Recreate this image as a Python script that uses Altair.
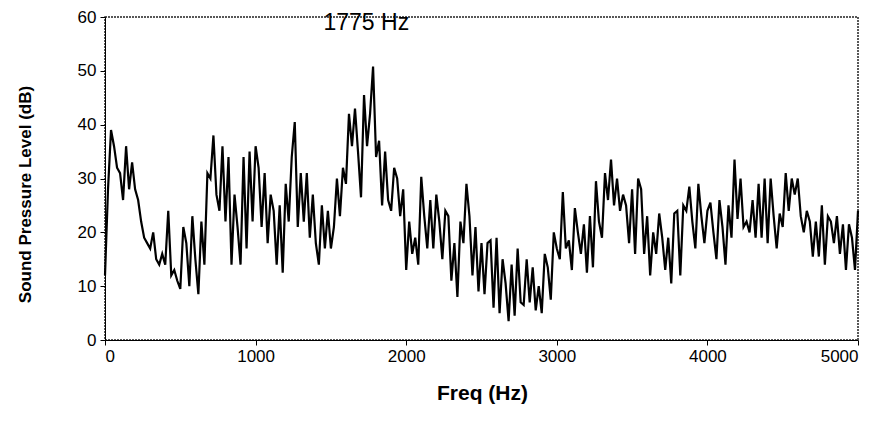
import altair as alt
import pandas as pd

# Frequency bins (Hz), one every 20 Hz from 0 to 5000
freq = list(range(0, 5001, 20))

# Sound pressure level (dB), one per bin
spl = [
    12, 28, 39, 36, 32, 31, 26, 36, 28, 33,
    28, 26, 22, 19, 18, 17, 20, 15, 14, 16,
    14, 24, 12, 13, 11, 9.5, 21, 18, 10, 23,
    15, 8.5, 22, 14, 31, 30, 38, 27, 24, 36,
    22, 34, 14, 27, 21, 14, 34, 17, 35, 22,
    36, 32, 21, 31, 18, 27, 24, 14, 25, 12.5,
    29, 22, 34, 40.5, 21, 31, 22, 31, 19, 27,
    18, 14, 25, 17, 24, 17, 21, 30, 23, 32,
    29, 42, 36, 43, 35, 26.5, 45.5, 36, 42, 50.8,
    34, 37, 25, 35, 26, 24, 32, 30, 23, 28,
    13, 22, 16, 19, 14, 30.3, 23, 17, 26, 17,
    27, 22, 15, 24, 23, 11, 18, 8, 22, 18,
    29, 23, 12, 21, 9, 18, 8.5, 18, 18.5, 6,
    19, 5, 15, 10.5, 3.5, 14, 4.5, 17, 7, 6.5,
    15, 7, 13.5, 5.5, 10, 5, 16, 13.5, 7.5, 20,
    17, 15, 27.5, 17, 18.5, 13, 24.5, 20, 16, 21.5,
    12.5, 23, 13.5, 29.5, 22, 19, 31, 26, 33.5, 25,
    30, 24, 27, 25, 18, 28, 16, 30, 28, 16,
    23, 12, 20, 16, 23.5, 19, 13, 19, 10.5, 23.5,
    24, 12, 25, 24, 28.5, 22, 17, 29, 23, 18,
    24, 25.5, 20, 15, 26, 21, 14, 25, 19, 33.5,
    22.5, 30, 21, 22, 20, 26, 19, 29, 19, 30,
    18, 30, 23, 17, 23.5, 21, 31, 24, 30, 27,
    30, 23, 20, 24, 22, 15.5, 22, 15.5, 25, 14,
    23, 22, 18, 23, 16, 21.5, 13, 21.5, 19, 13,
    24,
]

x_ticks = [0, 1000, 2000, 3000, 4000, 5000]
y_ticks = [0, 10, 20, 30, 40, 50, 60]

annot_x = [1735]
annot_y = [57.5]
annot_text = ["1775 Hz"]

FONT = "Liberation Sans"

df = pd.DataFrame({"freq": freq, "spl": spl})
ann = pd.DataFrame({"x": annot_x, "y": annot_y, "t": annot_text})

x_enc = alt.X(
    "freq:Q",
    scale=alt.Scale(domain=[0, 5000], nice=False, zero=False),
    axis=alt.Axis(
        values=x_ticks, format="d", title="Freq (Hz)",
        grid=False, tickSize=5, tickColor="black", domainColor="black",
        labelFont=FONT, labelFontSize=17, labelColor="black", labelPadding=3,
        titleFont=FONT, titleFontSize=21, titleFontWeight="bold", titleColor="black",
        titleX=377, titleY=53, titleBaseline="middle",
    ),
)
y_enc = alt.Y(
    "spl:Q",
    scale=alt.Scale(domain=[0, 60], nice=False),
    axis=alt.Axis(
        values=y_ticks, format="d", title="Sound Pressure Level (dB)",
        grid=False, tickSize=5, tickColor="black", domainColor="black",
        labelFont=FONT, labelFontSize=17, labelColor="black", labelPadding=4,
        titleFont=FONT, titleFontSize=17, titleFontWeight="bold", titleColor="black",
        titleX=-80, titleY=177, titleAngle=-90, titleBaseline="middle", titleAlign="center",
    ),
)

line = alt.Chart(df).mark_line(color="black", strokeWidth=2.2, interpolate="linear").encode(
    x=x_enc, y=y_enc
)

text = alt.Chart(ann).mark_text(
    font=FONT, fontSize=23, color="black", align="center", baseline="alphabetic"
).encode(x=alt.X("x:Q"), y=alt.Y("y:Q"), text="t:N")

chart = (
    alt.layer(line, text)
    .properties(
        width=753,
        height=323,
        autosize=alt.AutoSizeParams(type="none"),
        padding={"left": 105, "top": 17, "right": 27, "bottom": 84},
        background="white",
    )
    .configure_view(stroke="#222222", strokeWidth=1.5, strokeDash=[2, 1])
)

chart.save("out.html", embed_options={"renderer": "svg", "actions": False})
